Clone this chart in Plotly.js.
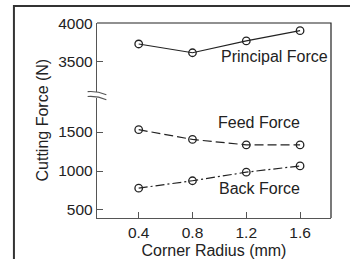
<!DOCTYPE html>
<html>
<head>
<meta charset="utf-8">
<script src="https://cdn.plot.ly/plotly-3.0.1.min.js"></script>
<style>html,body{margin:0;padding:0;background:#fff;}#chart{width:350px;height:259px;}</style>
</head>
<body>
<div id="chart"></div>
<script>
const cornerRadius = [0.4, 0.8, 1.2, 1.6];
const principalForce = [3735, 3620, 3775, 3910];
const feedForce = [1530, 1405, 1335, 1335];
const backForce = [780, 875, 985, 1065];
const seriesNames = ["Principal Force", "Feed Force", "Back Force"];
const xTicks = [0.4, 0.8, 1.2, 1.6];
const yTicksLower = [500, 1000, 1500];
const yTicksUpper = [3500, 4000];

const lineColor = '#222';
const tickFont = {family: 'Liberation Sans, Arial, sans-serif', size: 15.5, color: '#222'};
const font = {family: 'Liberation Sans, Arial, sans-serif', size: 16, color: '#222'};
const marker = {symbol: 'circle-open', size: 7.5, color: lineColor, line: {width: 1.3, color: lineColor}};

const traces = [
  {x: cornerRadius, y: principalForce, yaxis: 'y2', mode: 'lines+markers', name: seriesNames[0],
   line: {color: lineColor, width: 1.2, dash: 'solid'}, marker: marker},
  {x: cornerRadius, y: feedForce, yaxis: 'y', mode: 'lines+markers', name: seriesNames[1],
   line: {color: lineColor, width: 1.2, dash: '9px,4px'}, marker: marker},
  {x: cornerRadius, y: backForce, yaxis: 'y', mode: 'lines+markers', name: seriesNames[2],
   line: {color: lineColor, width: 1.2, dash: '9px,3px,2px,3px'}, marker: marker}
];

const axisColor = '#555';
const lowerTop = 0.615, upperBottom = 0.646;

const layout = {
  width: 350, height: 259,
  margin: {l: 97, r: 19, t: 23, b: 41},
  paper_bgcolor: '#fff', plot_bgcolor: '#fff',
  showlegend: false,
  font: font,
  xaxis: {
    range: [0.09, 1.83], tickvals: xTicks, ticktext: xTicks.map(v => v.toFixed(1)),
    ticks: 'inside', ticklen: 6, tickcolor: axisColor, tickwidth: 1,
    showline: true, linecolor: axisColor, linewidth: 1.2,
    showgrid: false, zeroline: false, tickfont: tickFont,
    title: {text: 'Corner Radius (mm)', font: font, standoff: 7}
  },
  yaxis: {
    domain: [0, lowerTop], range: [397, 1936], tickvals: yTicksLower,
    ticks: 'inside', ticklen: 6, tickcolor: axisColor, tickwidth: 1,
    showline: true, linecolor: axisColor, linewidth: 1.2,
    showgrid: false, zeroline: false, tickfont: tickFont
  },
  yaxis2: {
    domain: [upperBottom, 1], range: [3105, 4010], tickvals: yTicksUpper,
    ticks: 'inside', ticklen: 6, tickcolor: axisColor, tickwidth: 1,
    showline: true, linecolor: axisColor, linewidth: 1.2,
    showgrid: false, zeroline: false, tickfont: tickFont
  },
  annotations: [
    {xref: 'x', yref: 'y2', x: 1.41, y: 3577, text: seriesNames[0], showarrow: false, font: font},
    {xref: 'x', yref: 'y', x: 1.295, y: 1628, text: seriesNames[1], showarrow: false, font: font},
    {xref: 'x', yref: 'y', x: 1.295, y: 770, text: seriesNames[2], showarrow: false, font: font},
    {xref: 'paper', yref: 'paper', x: -0.235, y: 0.5, xanchor: 'center', yanchor: 'middle',
     text: 'Cutting Force (N)', textangle: -90, showarrow: false, font: font}
  ],
  shapes: [
    {type: 'path', xref: 'paper', yref: 'paper', path: 'M 0,1 L 1,1 L 1,0', line: {color: lineColor, width: 1.2}},
    {type: 'path', xref: 'paper', yref: 'paper', path: 'M -0.04,0.648 Q 0,0.652 0.04,0.632', line: {color: axisColor, width: 1.1}},
    {type: 'path', xref: 'paper', yref: 'paper', path: 'M -0.04,0.623 Q 0,0.627 0.04,0.607', line: {color: axisColor, width: 1.1}},
    {type: 'path', xref: 'paper', yref: 'paper', path: 'M -0.355,-0.3 L -0.355,1.087 L 1.2,1.087', line: {color: '#333', width: 2}}
  ]
};

Plotly.newPlot('chart', traces, layout, {displayModeBar: false, staticPlot: true});
</script>
</body>
</html>
